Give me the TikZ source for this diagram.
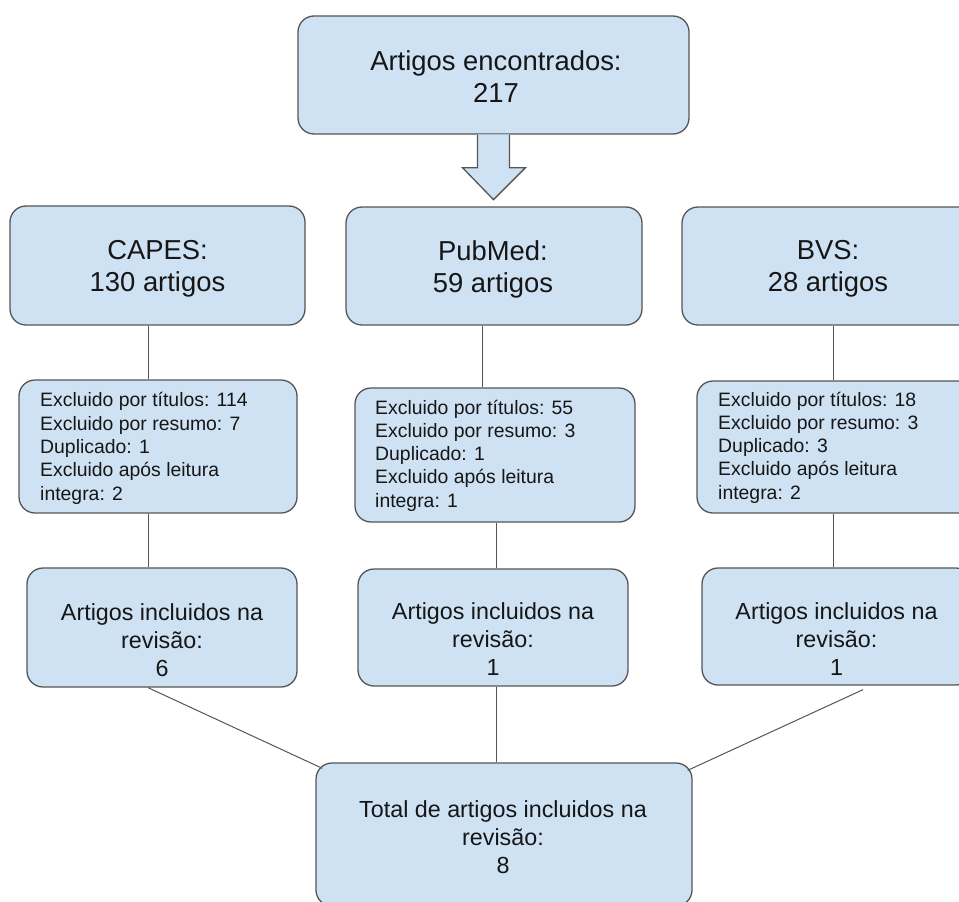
\documentclass[tikz,border=0pt]{standalone}
\usepackage{fontspec}
\setmainfont{Liberation Sans}
\usetikzlibrary{calc}
\definecolor{boxfill}{HTML}{CFE2F3}
\definecolor{boxline}{HTML}{555555}
\definecolor{txtcol}{HTML}{161616}
\tikzset{
  box/.style={draw=boxline, line width=1.3pt, fill=boxfill, rounded corners=16pt, inner sep=0pt},
  bigtxt/.style={align=center, inner sep=0pt, text=txtcol, font=\fontsize{27.4}{32}\selectfont},
  medtxt/.style={align=center, inner sep=0pt, text=txtcol, font=\fontsize{23.3}{28}\selectfont},
  smalltxt/.style={align=left, inner sep=0pt, anchor=west, text=txtcol, font=\fontsize{19.4}{23.3}\selectfont},
  conn/.style={draw=boxline, line width=1pt},
  blockarrow/.style={draw=boxline, line width=1.3pt, fill=boxfill, line join=miter},
}
\begin{document}
\begin{tikzpicture}[x=1pt,y=-1pt]
\useasboundingbox (0,0) rectangle (959,902);

% boxes
\node[box, minimum width=391pt, minimum height=118pt] (top) at (493.5,75) {};
\node[box, minimum width=295pt, minimum height=119pt] (capesA) at (157.5,265.5) {};
\node[box, minimum width=296pt, minimum height=118pt] (pubA) at (494,266) {};
\node[box, minimum width=295pt, minimum height=118pt] (bvsA) at (829.5,266) {};
\node[box, minimum width=278pt, minimum height=133pt] (capesB) at (158,446.5) {};
\node[box, minimum width=280pt, minimum height=134pt] (pubB) at (495,455) {};
\node[box, minimum width=279pt, minimum height=132pt] (bvsB) at (836.5,447) {};
\node[box, minimum width=270pt, minimum height=119pt] (capesC) at (162,627.5) {};
\node[box, minimum width=270pt, minimum height=117pt] (pubC) at (493,627.5) {};
\node[box, minimum width=270pt, minimum height=117pt] (bvsC) at (837,626.5) {};
\node[box, minimum width=376pt, minimum height=143pt] (total) at (504,834.5) {};

% texts
\node[bigtxt] (topT) at (496,76.4) {Artigos encontrados:\\217};
\node[bigtxt] (capesAT) at (157.5,269.2) {CAPES:\\130 artigos};
\node[bigtxt] (pubAT) at (493,269.2) {PubMed:\\59 artigos};
\node[bigtxt] (bvsAT) at (828,269.2) {BVS:\\28 artigos};
\node[smalltxt] (capesBT) at (40,448.4) {Excluido por títulos: 114\\Excluido por resumo: 7\\Duplicado: 1\\Excluido após leitura\\integra: 2};
\node[smalltxt] (pubBT) at (375,455.5) {Excluido por títulos: 55\\Excluido por resumo: 3\\Duplicado: 1\\Excluido após leitura\\integra: 1};
\node[smalltxt] (bvsBT) at (718,447.5) {Excluido por títulos: 18\\Excluido por resumo: 3\\Duplicado: 3\\Excluido após leitura\\integra: 2};
\node[medtxt] (capesCT) at (162,639.7) {Artigos incluidos na\\revisão:\\6};
\node[medtxt] (pubCT) at (493,639.5) {Artigos incluidos na\\revisão:\\1};
\node[medtxt] (bvsCT) at (836.5,639.5) {Artigos incluidos na\\revisão:\\1};
\node[medtxt] (totalT) at (503,836.7) {Total de artigos incluidos na\\revisão:\\8};

% block arrow
\fill[boxfill] ($(top.south)+(-16,0)$) -- ($(top.south)+(-16,33)$) -- ($(top.south)+(-31,33)$) -- ($(top.south)+(0,65)$) -- ($(top.south)+(32,33)$) -- ($(top.south)+(16,33)$) -- ($(top.south)+(16,0)$) -- cycle;
\draw[blockarrow] ($(top.south)+(-16,0)$) -- ($(top.south)+(-16,33)$) -- ($(top.south)+(-31,33)$) -- ($(top.south)+(0,65)$) -- ($(top.south)+(32,33)$) -- ($(top.south)+(16,33)$) -- ($(top.south)+(16,0)$);

% connector x positions
\coordinate (xc) at (148,0);
\coordinate (xpa) at (482,0);
\coordinate (xpb) at (496,0);
\coordinate (xb) at (833.3,0);

\draw[conn] (capesA.south -| xc) -- (capesB.north -| xc);
\draw[conn] (capesB.south -| xc) -- (capesC.north -| xc);
\draw[conn] (pubA.south -| xpa) -- (pubB.north -| xpa);
\draw[conn] (pubB.south -| xpb) -- (pubC.north -| xpb);
\draw[conn] (pubC.south -| xpb) -- (total.north -| xpb);
\draw[conn] (bvsA.south -| xb) -- (bvsB.north -| xb);
\draw[conn] (bvsB.south -| xb) -- (bvsC.north -| xb);
\draw[conn] ([xshift=-14pt]capesC.south) -- ([xshift=7pt,yshift=-6pt]total.north west);
\draw[conn] ([xshift=26pt,yshift=-4pt]bvsC.south) -- ([xshift=-5pt,yshift=-8pt]total.north east);
\end{tikzpicture}
\end{document}
